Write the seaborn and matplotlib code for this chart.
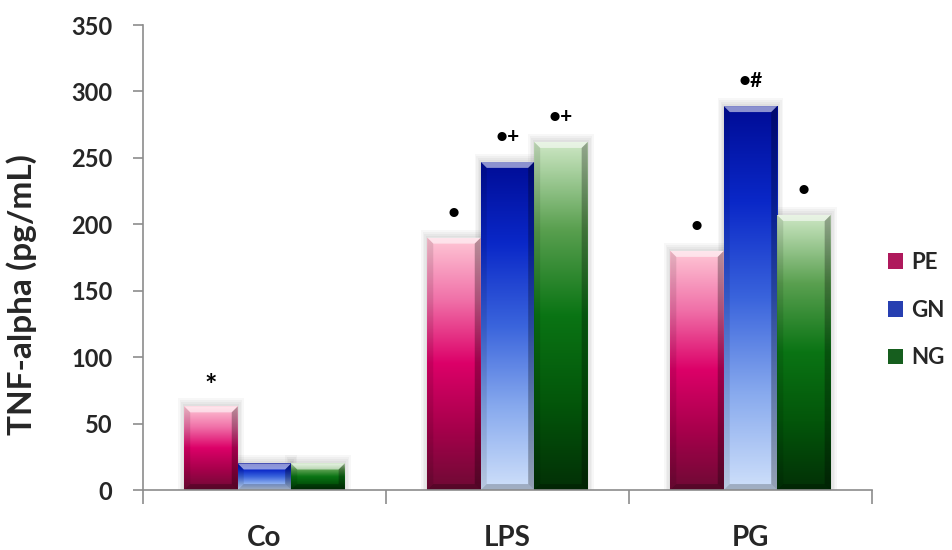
import numpy as np
import pandas as pd
import matplotlib
matplotlib.use('Agg')
import matplotlib.pyplot as plt
from matplotlib.colors import LinearSegmentedColormap
import seaborn as sns

# Data
groups = ['Co', 'LPS', 'PG']
series = ['PE', 'GN', 'NG']
pe_vals = [63, 190, 180]
gn_vals = [20, 247, 289]
ng_vals = [20, 262, 207]
marks_pe = ['*', '\u2022', '\u2022']
marks_gn = ['', '\u2022+', '\u2022#']
marks_ng = ['', '\u2022+', '\u2022']

df = pd.DataFrame({
    'group': groups * 3,
    'series': [s for s in series for _ in groups],
    'value': pe_vals + gn_vals + ng_vals,
})

# gradient stops (top -> bottom) for each series
grad = {
    'PE': ['#ffc8d6', '#f070a8', '#dc0068', '#a8004c', '#6e0a34'],
    'GN': ['#000c96', '#0a28c8', '#3a64dc', '#88aaee', '#cfe0fa'],
    'NG': ['#cfe8c6', '#5aa050', '#0a7414', '#03560a', '#023006'],
}
mid = {'PE': '#c8005a', 'GN': '#1030c8', 'NG': '#0a6a14'}

sns.set_style('white')
plt.rcParams['font.family'] = ['Lato', 'DejaVu Sans']

fig = plt.figure(figsize=(9.53, 5.5), dpi=100)
ax = fig.add_axes([0.150, 0.109, 0.765, 0.8455])

sns.barplot(data=df, x='group', y='value', hue='series', order=groups,
            hue_order=series, palette=mid, width=0.66, ax=ax,
            edgecolor='none', linewidth=0, legend=True)

ax.set_xlim(-0.5, 2.5)
ax.set_ylim(0, 350)
ax.set_yticks(range(0, 351, 50))

# pixel -> data scale helpers
px_x = 3.0 / 729
px_y = 350.0 / 465

# gradient fill clipped to each bar, plus soft shadow and bevel
for s, cont in zip(series, ax.containers):
    cmap = LinearSegmentedColormap.from_list(s, grad[s][::-1])
    img = np.linspace(0, 1, 256).reshape(-1, 1)
    for bar in cont:
        x0, w, h = bar.get_x(), bar.get_width(), bar.get_height()
        for k in range(1, 5):
            ax.add_patch(plt.Rectangle((x0 - k * 1.5 * px_x, 0),
                                       w + 2 * k * 1.5 * px_x, h + k * 2 * px_y,
                                       color='black', alpha=0.03, lw=0, zorder=1))
        bar.set_zorder(2)
        im = ax.imshow(img, cmap=cmap, aspect='auto', origin='lower',
                       extent=[x0, x0 + w, 0, h], zorder=3)
        im.set_clip_path(bar)
        bx, by = 6 * px_x, min(6 * px_y, h * 0.3)
        x1 = x0 + w
        bevels = [
            ([(x0, h), (x1, h), (x1 - bx, h - by), (x0 + bx, h - by)], 'white', 0.55),
            ([(x0, 0), (x1, 0), (x1 - bx, by), (x0 + bx, by)], 'black', 0.22),
            ([(x0, 0), (x0 + bx, by), (x0 + bx, h - by), (x0, h)], 'black', 0.10),
            ([(x1, 0), (x1 - bx, by), (x1 - bx, h - by), (x1, h)], 'black', 0.28),
        ]
        for pts, c, a in bevels:
            ax.add_patch(plt.Polygon(pts, closed=True, color=c, alpha=a, lw=0, zorder=4))

ax.set_xlim(-0.5, 2.5)
ax.set_ylim(0, 350)

# significance marks
for cont, marks in zip(ax.containers, [marks_pe, marks_gn, marks_ng]):
    for bar, m in zip(cont, marks):
        if not m:
            continue
        xc = bar.get_x() + bar.get_width() / 2
        size = 21 if m == '*' else 15
        dy = 15 if m == '*' else 18
        ax.annotate(m, (xc, bar.get_height()), xytext=(0, dy),
                    textcoords='offset points', ha='center', va='center',
                    fontsize=size, fontweight='bold', color='black', zorder=6)

# axes styling (Excel look)
for sp in ['top', 'right']:
    ax.spines[sp].set_visible(False)
for sp in ['left', 'bottom']:
    ax.spines[sp].set_color('#8c8c8c')
    ax.spines[sp].set_linewidth(1.2)
ax.spines['bottom'].set_zorder(7)

ax.tick_params(axis='y', which='both', left=True, length=7, width=1.2,
               color='#8c8c8c', labelsize=17, pad=15)
ax.set_xticks([0, 1, 2])
ax.set_xticklabels(groups)
ax.tick_params(axis='x', length=0, labelsize=20, pad=25)
for t in ax.get_xticklabels() + ax.get_yticklabels():
    t.set_fontweight('bold')
# category separator ticks
ax.set_xticks([-0.5, 0.5, 1.5, 2.5], minor=True)
ax.tick_params(axis='x', which='minor', bottom=True, length=10, width=1.2,
               color='#8c8c8c')

ax.set_xlabel('')
ax.set_ylabel('TNF-alpha (pg/mL)', fontsize=24, fontweight='bold')
ax.yaxis.set_label_coords(-0.145, 0.42)

leg = ax.legend(loc='center left', bbox_to_anchor=(1.0, 0.387), frameon=False,
                fontsize=16, handlelength=0.7, handleheight=0.7,
                labelspacing=1.2, handletextpad=0.35, borderaxespad=0.3)
for t in leg.get_texts():
    t.set_fontweight('bold')

fig.savefig('out.png', dpi=100)
